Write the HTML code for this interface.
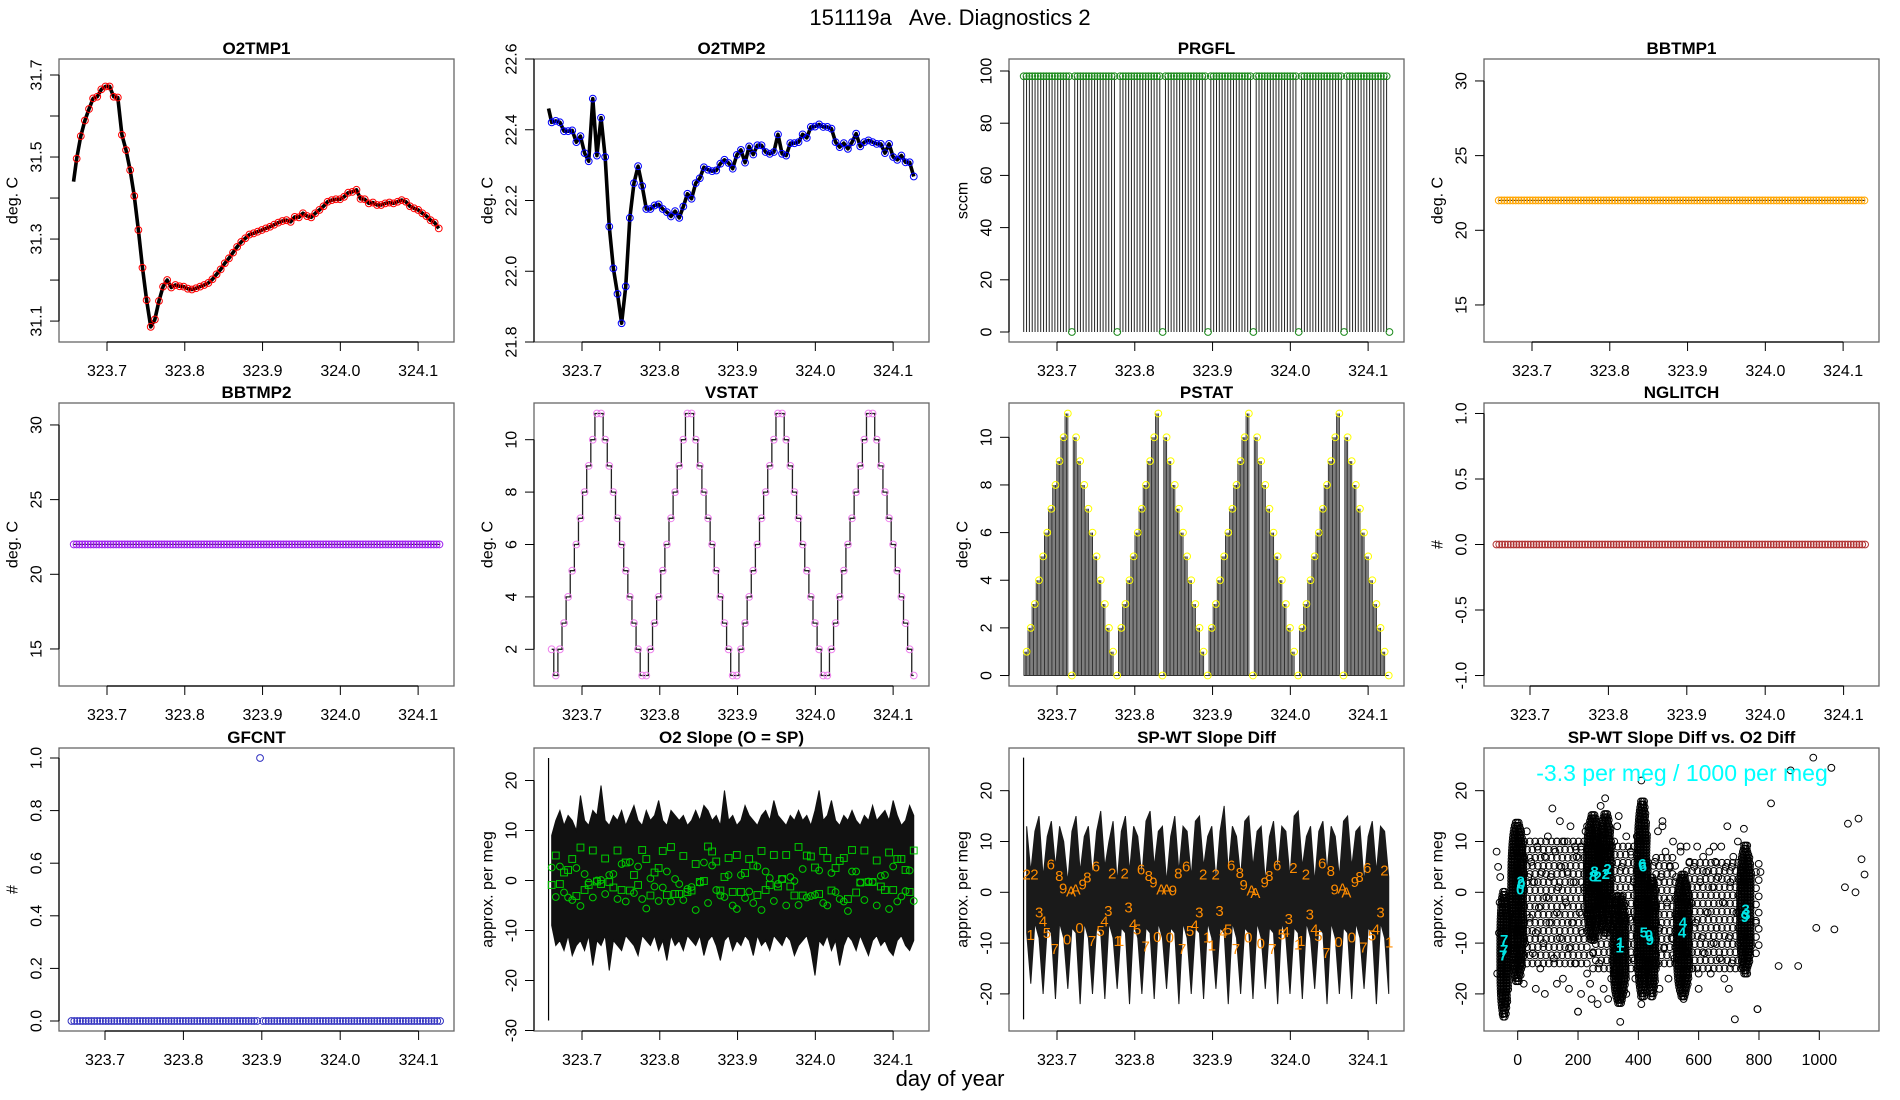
<!DOCTYPE html>
<html><head><meta charset="utf-8"><title>151119a Ave. Diagnostics 2</title>
<style>
html,body{margin:0;padding:0;background:#fff;}
svg{display:block;font-family:"Liberation Sans",Arial,sans-serif;}
</style></head>
<body>
<svg id="chart" xmlns="http://www.w3.org/2000/svg" width="1900" height="1100" viewBox="0 0 1900 1100">
<rect x="0" y="0" width="1900" height="1100" fill="#fff"/>
<text x="950" y="25" font-size="22" text-anchor="middle" style="white-space:pre" xml:space="preserve">151119a   Ave. Diagnostics 2</text>
<text x="950" y="1086" font-size="22" text-anchor="middle">day of year</text>
</svg>
<script>
// ---------- data ----------
const sampleT0 = 323.661, sampleDt = 0.00529;   // 89 averaged samples
const fineT0 = 323.6572, fineDt = 0.003645;     // 130 raw samples
const timeTicks = [323.7, 323.8, 323.9, 324.0, 324.1];
const timeTickLabels = ['323.7', '323.8', '323.9', '324.0', '324.1'];

const o2tmp1 = [31.496,31.551,31.589,31.617,31.643,31.647,31.665,31.672,31.672,31.647,
31.645,31.554,31.517,31.468,31.405,31.322,31.230,31.151,31.086,31.104,
31.149,31.184,31.200,31.182,31.188,31.185,31.184,31.179,31.177,31.180,
31.184,31.188,31.193,31.202,31.214,31.226,31.241,31.253,31.267,31.281,
31.293,31.302,31.311,31.314,31.318,31.322,31.326,31.330,31.335,31.340,
31.344,31.346,31.342,31.354,31.353,31.363,31.356,31.353,31.363,31.371,
31.380,31.391,31.395,31.397,31.397,31.403,31.413,31.415,31.420,31.398,
31.397,31.387,31.389,31.383,31.383,31.387,31.389,31.387,31.391,31.395,
31.391,31.380,31.375,31.371,31.363,31.356,31.346,31.340,31.326];
const o2tmp1Start = [323.657, 31.44];

const o2tmp2 = [22.421,22.425,22.421,22.396,22.396,22.398,22.365,22.382,22.334,22.311,
22.488,22.327,22.434,22.323,22.126,22.008,21.936,21.853,21.957,22.151,
22.249,22.297,22.241,22.176,22.176,22.186,22.189,22.176,22.167,22.155,
22.170,22.151,22.183,22.219,22.205,22.249,22.263,22.294,22.287,22.283,
22.285,22.304,22.315,22.306,22.290,22.329,22.343,22.307,22.353,22.330,
22.356,22.356,22.337,22.332,22.337,22.387,22.332,22.327,22.362,22.362,
22.365,22.387,22.377,22.408,22.409,22.415,22.408,22.408,22.403,22.365,
22.351,22.362,22.346,22.365,22.389,22.353,22.365,22.370,22.365,22.360,
22.360,22.334,22.360,22.323,22.315,22.327,22.308,22.308,22.268];
const o2tmp2Start = [323.657, 22.46];

const prgfl = [98,98,98,98,98,98,98,98,98,98,98,98,98,98,98,98,98,0,
98,98,98,98,98,98,98,98,98,98,98,98,98,98,98,0,
98,98,98,98,98,98,98,98,98,98,98,98,98,98,98,0,
98,98,98,98,98,98,98,98,98,98,98,98,98,98,98,0,
98,98,98,98,98,98,98,98,98,98,98,98,98,98,98,0,
98,98,98,98,98,98,98,98,98,98,98,98,98,98,98,0,
98,98,98,98,98,98,98,98,98,98,98,98,98,98,98,0,
98,98,98,98,98,98,98,98,98,98,98,98,98,98,98,0];

const bbtmp1 = [22,22,22,22,22,22,22,22,22,22, 22,22,22,22,22,22,22,22,22,22, 22,22,22,22,22,22,22,22,22,22,
22,22,22,22,22,22,22,22,22,22, 22,22,22,22,22,22,22,22,22,22, 22,22,22,22,22,22,22,22,22,22,
22,22,22,22,22,22,22,22,22,22, 22,22,22,22,22,22,22,22,22,22, 22,22,22,22,22,22,22,22,22,22,
22,22,22,22,22,22,22,22,22,22, 22,22,22,22,22,22,22,22,22,22, 22,22,22,22,22,22,22,22,22,22,
22,22,22,22,22,22,22,22,22,22];
const bbtmp2 = [22,22,22,22,22,22,22,22,22,22, 22,22,22,22,22,22,22,22,22,22, 22,22,22,22,22,22,22,22,22,22,
22,22,22,22,22,22,22,22,22,22, 22,22,22,22,22,22,22,22,22,22, 22,22,22,22,22,22,22,22,22,22,
22,22,22,22,22,22,22,22,22,22, 22,22,22,22,22,22,22,22,22,22, 22,22,22,22,22,22,22,22,22,22,
22,22,22,22,22,22,22,22,22,22, 22,22,22,22,22,22,22,22,22,22, 22,22,22,22,22,22,22,22,22,22,
22,22,22,22,22,22,22,22,22,22];
const nglitch = [0,0,0,0,0,0,0,0,0,0, 0,0,0,0,0,0,0,0,0,0, 0,0,0,0,0,0,0,0,0,0, 0,0,0,0,0,0,0,0,0,0,
0,0,0,0,0,0,0,0,0,0, 0,0,0,0,0,0,0,0,0,0, 0,0,0,0,0,0,0,0,0,0, 0,0,0,0,0,0,0,0,0,0,
0,0,0,0,0,0,0,0,0,0, 0,0,0,0,0,0,0,0,0,0, 0,0,0,0,0,0,0,0,0,0, 0,0,0,0,0,0,0,0,0,0,
0,0,0,0,0,0,0,0,0,0];
const gfcnt = [0,0,0,0,0,0,0,0,0,0, 0,0,0,0,0,0,0,0,0,0, 0,0,0,0,0,0,0,0,0,0, 0,0,0,0,0,0,0,0,0,0,
0,0,0,0,0,0,0,0,0,0, 0,0,0,0,0,0,0,0,0,0, 0,0,0,0,0,0,1,0,0,0, 0,0,0,0,0,0,0,0,0,0,
0,0,0,0,0,0,0,0,0,0, 0,0,0,0,0,0,0,0,0,0, 0,0,0,0,0,0,0,0,0,0, 0,0,0,0,0,0,0,0,0,0,
0,0,0,0,0,0,0,0,0,0];

const vstat = [2,1, 2,3,4,5,6,7,8,9,10,11, 11,10,9,8,7,6,5,4,3,2,1, 1,2,3,4,5,6,7,8,9,10,11,
11,10,9,8,7,6,5,4,3,2,1, 1,2,3,4,5,6,7,8,9,10,11, 11,10,9,8,7,6,5,4,3,2,1,
1,2,3,4,5,6,7,8,9,10,11, 11,10,9,8,7,6,5,4,3,2,1];
const pstat = [1,2,3,4,5,6,7,8,9,10,11, 0, 10,9,8,7,6,5,4,3,2,1, 0,
2,3,4,5,6,7,8,9,10,11, 0, 10,9,8,7,6,5,4,3,2,1, 0,
2,3,4,5,6,7,8,9,10,11, 0, 10,9,8,7,6,5,4,3,2,1, 0,
2,3,4,5,6,7,8,9,10,11, 0, 10,9,8,7,6,5,4,3,2,1, 0];

const o2Circle = [2.6,-3.3,2.8,-2.4,-3.4,-3.9,2.5,-5.1,1.3,-0.4, -3.4,0,0.1,-2.7,1.1,1.3,-3.7,3.3,-4.2,3.7,
-2.5,2.8,-3.7,-5.6,0.4,-1.2,-4.1,-1.4,1.8,-4.2, 0.3,-0.7,-3.9,-1.7,-1.3,-5.9,-0.4,3.6,-4.5,3.0,
-1.9,-3.0,-3.3,1.1,-5.0,-5.7,1.1,-3.5,-2.2,-4.5, 2.8,-5.9,1.8,0.5,-4.1,-0.7,0.3,-5.0,0.7,-0.1,
-4.9,2.3,-3.4,-3.1,-2.9,2.0,-4.5,-5.0,1.5,-2.3, -3.7,-4.2,-6.1,1.8,1.8,-0.4,-3.9,-0.2,-0.3,-5.0,
0.9,1.1,-5.7,2.8,-4.2,-3.2,-2.1,2.0,-4.1];
const o2Square = [-0.9,5.0,-0.7,1.6,2.1,4.3,-3.1,6.6,-1.9,-0.9, 6.0,-0.2,-0.7,4.4,-0.3,-1.4,6.0,-1.9,3.6,-2.0,
1.1,-0.9,6.1,4.3,-3.0,1.6,2.5,5.9,-2.9,6.7, -2.7,-2.7,4.9,-2.3,-2.0,3.3,-0.3,-0.1,6.8,5.8,
3.8,-2.0,0.7,4.5,-2.3,5.1,-2.3,1.5,4.3,3.0, -2.9,5.9,-1.9,-0.9,5.1,-1.2,0.3,5.1,-1.2,-3.0,
6.7,-3.0,5.0,4.8,2.6,-2.7,5.9,4.5,-2.0,2.5, 3.9,4.5,-3.7,6.1,-2.4,-0.4,6.0,-0.3,-0.3,4.0,
-1.2,-1.9,5.6,-1.9,4.3,4.3,2.1,-2.3,6.0];
const o2Hi = [9,12,14,11,13,12,10,17,12,11, 14,13,19,12,11,13,12,14,11,13, 15,12,11,14,12,13,16,12,11,14,
13,12,13,11,12,14,12,15,14,12, 13,11,18,12,13,11,12,15,13,12, 11,13,14,12,16,13,12,11,13,12,
14,12,13,11,14,18,12,13,16,12, 11,13,12,14,12,11,13,12,15,12, 13,14,12,16,13,11,12,15,13];
const o2Lo = [-9,-13,-12,-14,-11,-15,-13,-12,-14,-11, -17,-12,-13,-11,-18,-12,-13,-14,-11,-12,
-13,-15,-11,-12,-13,-11,-14,-12,-16,-11, -13,-12,-14,-11,-12,-13,-11,-15,-12,-11,
-13,-16,-12,-11,-14,-12,-13,-11,-12,-15, -11,-13,-12,-14,-11,-12,-13,-11,-12,-15,
-13,-12,-11,-14,-19,-12,-13,-11,-14,-12, -17,-13,-11,-12,-14,-11,-13,-15,-12,-11,
-13,-12,-14,-15,-12,-11,-13,-14,-12];
const o2Spike = [323.657, 24.5, -28];

const swHi = [13,4,12,15,3,11,14,5,13,10, 2,12,15,4,11,13,3,12,16,5, 10,14,2,12,15,4,13,11,3,14,
16,5,12,13,2,11,15,4,13,12, 3,14,15,5,11,13,2,12,17,4, 13,11,3,14,15,5,12,13,2,11,
14,4,13,12,3,15,16,5,11,13, 2,12,14,4,13,11,3,14,15,5, 12,13,2,11,14,4,13,12,3];
const swLo = [-8,-18,-6,-9,-20,-7,-8,-21,-6,-9, -19,-7,-8,-22,-6,-9,-20,-7,-8,-21,
-6,-9,-19,-7,-8,-22,-6,-9,-20,-7, -8,-21,-6,-9,-19,-7,-8,-22,-6,-9,
-20,-7,-8,-21,-6,-9,-19,-7,-8,-22, -6,-9,-20,-7,-8,-21,-6,-9,-19,-7,
-8,-22,-6,-9,-20,-7,-8,-21,-6,-9, -19,-7,-8,-22,-6,-9,-20,-7,-8,-21,
-6,-9,-19,-7,-8,-22,-6,-9,-20];
const swSpike = [323.657, 26.5, -25];
const swLabelChar = ['2','2','6','8','9','A','A','9','8','6','2','2','6','8','9','A','A','9','8','6','2','2','6','8','9','A','A','9','8','6','2','2','6','8','9','A','A','9','8','6','2',
'3','4','1','5','7','0','0','7','5','4','3','1','1','3','4','5','7','0','0','7','5','4','3','1','1','3','4','5','7','0','0','7','5','4','3','1','1','3','4','5','7','0','0','7','5','4','3','1'];
const swLabelT = [323.661,323.671,323.692,323.703,323.708,323.718,323.724,323.733,323.739,323.750,323.771,323.787,323.808,323.818,323.824,323.834,323.841,323.849,323.856,323.866,323.888,323.904,323.924,323.935,323.940,323.950,323.955,323.967,323.973,323.983,324.004,324.020,324.041,324.052,324.057,324.067,324.072,324.083,324.089,324.099,324.121,
323.677,323.682,323.666,323.687,323.697,323.713,323.729,323.745,323.756,323.761,323.766,323.778,323.781,323.792,323.798,323.803,323.814,323.829,323.845,323.861,323.871,323.877,323.883,323.893,323.899,323.909,323.914,323.920,323.930,323.946,323.962,323.977,323.989,323.994,323.998,324.010,324.014,324.025,324.031,324.036,324.046,324.062,324.079,324.094,324.105,324.110,324.116,324.127];
const swLabelV = [3.4,3.4,5.4,3.1,0.6,0.1,0.5,1.4,2.8,5.0,3.6,3.6,4.4,3.1,1.8,0.5,0.5,0.3,3.6,5.0,3.4,3.4,5.2,3.7,1.3,0.3,-0.2,1.8,3.1,5.2,4.7,3.4,5.6,4.1,0.5,0.6,-0.1,1.9,2.9,4.7,4.2,
-4.1,-5.8,-8.5,-8.1,-11.3,-9.4,-7.1,-9.7,-7.7,-5.8,-3.8,-9.7,-9.7,-3.1,-6.4,-7.4,-10.8,-8.9,-9.0,-11.3,-7.7,-6.6,-4.1,-9.0,-10.6,-3.8,-8.1,-7.4,-11.3,-9.0,-10.2,-11.3,-8.4,-7.9,-5.4,-10.4,-9.7,-4.5,-7.4,-8.7,-12.0,-9.9,-9.0,-11.0,-8.6,-7.4,-4.1,-10.0];

// scatter: SP-WT slope diff vs O2 diff
const clusterX0 = [-58,-22,229,273,317,396,432,527,737];
const clusterX1 = [-30,22,273,312,361,432,460,571,776];
const clusterLo = [-24.5,-17.5,-9.4,-8,-21.8,-20.5,-20.5,-20.5,-16];
const clusterHi = [0.5,14.2,15.2,15.5,-0.2,18,3,3.7,9.2];
const cloudBandX0 = [-5,250,450,560,790];
const cloudBandX1 = [240,400,530,740,800];
const cloudBandLo = [-14,-15,-14,-15,-12];
const cloudBandHi = [10,10,8,7,6];
const cloudPts = [[-70,8],[-65,5],[-60,-2],[-68,-16],[-58,3],[-62,-8],[30,12],[40,-5],[45,6],[50,-12],[55,2],[60,-8],[65,9],[70,-3],[75,-15],[80,4],[85,-10],[90,7],[95,-1],[100,11],[105,-6],[110,3],[115,16.5],[120,-13],[125,8],[130,-4],[135,1],[140,-9],[145,5],[150,-17],[155,10],[160,-2],[165,4],[170,-11],[175,13],[180,-6],[185,2],[190,-14],[195,7],[200,-23.5],[205,-4],[210,9],[215,-8],[220,1],[225,12],[230,-16],[20,-18],[25,-10],[35,3],[60,-19],[90,-20],[130,-18],[170,-19],[210,-20],[240,-18],[245,-21],[265,-22],[285,-19],[300,-21],[310,-17],[320,10],[330,13],[345,5],[360,11],[370,-5],[375,8],[380,-13],[385,2],[390,-17],[395,11],[400,-3],[455,6],[460,-14],[465,12],[470,-7],[475,3],[480,14],[485,-11],[490,8],[495,-2],[500,-17],[505,5],[510,-9],[515,10],[520,-13],[525,3],[530,-5],[540,9],[560,-12],[570,6],[575,-2],[580,-15],[585,5],[590,-6],[595,9],[600,-16],[605,2],[610,-9],[615,7],[620,-12],[625,4],[630,-4],[635,8],[640,-16],[645,1],[650,-10],[655,6],[660,-7],[665,3],[670,-13],[675,9],[680,-2],[685,-17],[690,5],[695,13],[700,-9],[705,2],[710,-14],[715,7],[720,-25],[725,-4],[730,10],[790,-6],[795,-23],[805,4],[140,14],[250,-12],[270,-14],[320,-16],[360,-20],[410,-22],[470,-19],[550,-21],[600,-19],[700,-19],[-40,-22],[-50,-24],[130,10],[190,9],[230,13],[275,17],[290,18.5],[335,15],[410,22],[480,13],[540,8],[560,9],[650,9],[710,5],[750,12.5],[980,26.5],[1040,24.5],[905,24],[840,17.5],[1130,14.5],[1095,13.5],[1140,6.5],[1150,3.5],[1085,1],[1120,0],[990,-7],[1050,-7.3],[930,-14.5],[865,-14.5],[795,-23],[340,-25.5],[200,-23.5]];
const cyanChar = ['7','7','7','0','0','2','8','8','2','2','2','6','6','1','1','5','0','9','4','4','3','3','9'];
const cyanX = [-45,-45,-48,8,12,10,250,255,265,292,298,413,415,340,338,418,435,438,548,545,756,758,753];
const cyanY = [-9.5,-11.5,-12.5,0.5,1.5,2,3,4,3,3.5,4.5,5.5,5,-10,-11,-8,-8.5,-9.5,-6,-8,-3.5,-4.5,-5];

// ---------- helpers ----------
const NS = 'http://www.w3.org/2000/svg';
const svg = document.getElementById('chart');
function el(tag, attrs, parent) {
  const e = document.createElementNS(NS, tag);
  for (const k in attrs) e.setAttribute(k, attrs[k]);
  (parent || svg).appendChild(e);
  return e;
}
const sampleT = i => sampleT0 + i * sampleDt;
const fineT = i => fineT0 + i * fineDt;
let clipId = 0;

function panel(p) {
  const L = 59 + 475 * p.col, T = [59, 403, 748][p.row], W = 395, H = 283;
  const g = el('g', {});
  
  
  const X = v => L + p.xoff + (v - p.x0) * p.xs;
  const Y = v => T + (p.ymax - v) / (p.ymax - p.ymin) * H;
  const box = el('rect', {x: L, y: T, width: W, height: H, fill: 'none', stroke: '#666', 'stroke-width': 1.3}, g);
  
  
  const ya = el('line', {x1: L, x2: L, y1: Y(p.yt[0]), y2: Y(p.yt[p.yt.length - 1]), stroke: '#000', 'stroke-width': 1.2}, g);
  
  
  p.yt.forEach((v, i) => {
    const tk = el('line', {x1: L - 9, x2: L, y1: Y(v), y2: Y(v), stroke: '#000', 'stroke-width': 1}, g);
    
    
    if (p.ytl[i] !== '') {
      const tx = el('text', {x: L - 22, y: Y(v), 'font-size': 16, 'text-anchor': 'middle', 'dominant-baseline': 'central', transform: `rotate(-90 ${L - 22} ${Y(v)})`}, g);
      tx.textContent = p.ytl[i];
      
      
    }
  });
  const xa = el('line', {x1: X(p.xt[0]), x2: X(p.xt[p.xt.length - 1]), y1: T + H, y2: T + H, stroke: '#000', 'stroke-width': 1.2}, g);
  
  
  p.xt.forEach((v, i) => {
    const tk = el('line', {x1: X(v), x2: X(v), y1: T + H, y2: T + H + 9, stroke: '#000', 'stroke-width': 1}, g);
    
    
    const tx = el('text', {x: X(v), y: T + H + 34, 'font-size': 16, 'text-anchor': 'middle'}, g);
    tx.textContent = p.xtl[i];
    
    
  });
  const ti = el('text', {x: L + W / 2, y: T - 5, 'font-size': 17, 'font-weight': 'bold', 'text-anchor': 'middle'}, g);
  ti.textContent = p.title;
  
  
  const yl = el('text', {x: L - 46, y: T + H / 2, 'font-size': 16, 'text-anchor': 'middle', 'dominant-baseline': 'central', transform: `rotate(-90 ${L - 46} ${T + H / 2})`}, g);
  yl.textContent = p.ylab;
  
  
  const cid = 'clip' + (clipId++);
  const cp = el('clipPath', {id: cid}, g);
  el('rect', {x: L, y: T, width: W, height: H}, cp);
  const d = el('g', {'clip-path': `url(#${cid})`}, g);
  
  
  return {d, X, Y};
}
function circle(parent, cx, cy, color, name) {
  const c = el('circle', {cx: cx, cy: cy, r: 3.4, fill: 'none', stroke: color, 'stroke-width': 1}, parent);
  
  
  return c;
}
function envelope(P, hi, lo, color, name) {
  const up = hi.map((h, i) => P.X(sampleT(i)) + ',' + P.Y(h));
  const dn = lo.map((l, i) => P.X(sampleT(i)) + ',' + P.Y(l)).reverse();
  const pg = el('polygon', {points: up.concat(dn).join(' '), fill: color, stroke: color, 'stroke-width': 1, 'stroke-linejoin': 'miter'}, P.d);
  
  
}
const stdTime = {x0: 323.7, xoff: 48, xs: 777.8, xt: timeTicks, xtl: timeTickLabels};
const altTime = {x0: 323.7, xoff: 46, xs: 784, xt: timeTicks, xtl: timeTickLabels};

function lineWithMarkers(P, start, vals, color, name) {
  let pts = [[P.X(start[0]), P.Y(start[1])]];
  vals.forEach((v, i) => pts.push([P.X(sampleT(i)), P.Y(v)]));
  const pl = el('polyline', {points: pts.map(q => q.join(',')).join(' '), fill: 'none', stroke: '#000', 'stroke-width': 3.6, 'stroke-linejoin': 'round'}, P.d);
  
  
  vals.forEach((v, i) => circle(P.d, P.X(sampleT(i)), P.Y(v), color, name + '-marker'));
}

// ---------- O2TMP1 ----------
{
  const P = panel(Object.assign({name: 'o2tmp1', col: 0, row: 0, title: 'O2TMP1', ylab: 'deg. C', ymin: 31.049, ymax: 31.739,
    yt: [31.1, 31.2, 31.3, 31.4, 31.5, 31.6, 31.7], ytl: ['31.1', '', '31.3', '', '31.5', '', '31.7']}, stdTime));
  lineWithMarkers(P, o2tmp1Start, o2tmp1, '#ff0000', 'o2tmp1');
}
// ---------- O2TMP2 ----------
{
  const P = panel(Object.assign({name: 'o2tmp2', col: 1, row: 0, title: 'O2TMP2', ylab: 'deg. C', ymin: 21.8, ymax: 22.6,
    yt: [21.8, 22.0, 22.2, 22.4, 22.6], ytl: ['21.8', '22.0', '22.2', '22.4', '22.6']}, stdTime));
  lineWithMarkers(P, o2tmp2Start, o2tmp2, '#0000ff', 'o2tmp2');
}
// ---------- PRGFL ----------
{
  const P = panel(Object.assign({name: 'prgfl', col: 2, row: 0, title: 'PRGFL', ylab: 'sccm', ymin: -3.83, ymax: 104.6,
    yt: [0, 20, 40, 60, 80, 100], ytl: ['0', '20', '40', '60', '80', '100']}, stdTime));
  prgfl.forEach((v, i) => {
    if (v > 0) {
      const ln = el('line', {x1: P.X(fineT(i)), x2: P.X(fineT(i)), y1: P.Y(0), y2: P.Y(v), stroke: '#222', 'stroke-width': 1}, P.d);
      
      
    }
  });
  prgfl.forEach((v, i) => circle(P.d, P.X(fineT(i)), P.Y(v), '#1a8a1a', 'prgfl-marker'));
}
// ---------- BBTMP1 ----------
{
  const P = panel(Object.assign({name: 'bbtmp1', col: 3, row: 0, title: 'BBTMP1', ylab: 'deg. C', ymin: 12.52, ymax: 31.47,
    yt: [15, 20, 25, 30], ytl: ['15', '20', '25', '30']}, stdTime));
  const ln = el('line', {x1: P.X(fineT(0)), x2: P.X(fineT(bbtmp1.length - 1)), y1: P.Y(bbtmp1[0]), y2: P.Y(bbtmp1[bbtmp1.length - 1]), stroke: '#000', 'stroke-width': 1}, P.d);
  
  
  bbtmp1.forEach((v, i) => circle(P.d, P.X(fineT(i)), P.Y(v), '#ffa500', 'bbtmp1-marker'));
}
// ---------- BBTMP2 ----------
{
  const P = panel(Object.assign({name: 'bbtmp2', col: 0, row: 1, title: 'BBTMP2', ylab: 'deg. C', ymin: 12.52, ymax: 31.47,
    yt: [15, 20, 25, 30], ytl: ['15', '20', '25', '30']}, stdTime));
  const ln = el('line', {x1: P.X(fineT(0)), x2: P.X(fineT(bbtmp2.length - 1)), y1: P.Y(bbtmp2[0]), y2: P.Y(bbtmp2[bbtmp2.length - 1]), stroke: '#000', 'stroke-width': 1}, P.d);
  
  
  bbtmp2.forEach((v, i) => circle(P.d, P.X(fineT(i)), P.Y(v), '#a020f0', 'bbtmp2-marker'));
}
// ---------- VSTAT ----------
{
  const P = panel(Object.assign({name: 'vstat', col: 1, row: 1, title: 'VSTAT', ylab: 'deg. C', ymin: 0.6, ymax: 11.4,
    yt: [2, 4, 6, 8, 10], ytl: ['2', '4', '6', '8', '10']}, stdTime));
  let dd = `M${P.X(sampleT(0))},${P.Y(vstat[0])}`;
  for (let i = 1; i < vstat.length; i++) {
    const x = P.X(sampleT(i));
    dd += ` H${x - 2} V${P.Y(vstat[i])} H${x}`;
  }
  const pth = el('path', {d: dd, fill: 'none', stroke: '#222', 'stroke-width': 1.3}, P.d);
  
  
  vstat.forEach((v, i) => circle(P.d, P.X(sampleT(i)), P.Y(v), '#ee82ee', 'vstat-marker'));
}
// ---------- PSTAT ----------
{
  const P = panel(Object.assign({name: 'pstat', col: 2, row: 1, title: 'PSTAT', ylab: 'deg. C', ymin: -0.44, ymax: 11.44,
    yt: [0, 2, 4, 6, 8, 10], ytl: ['0', '2', '4', '6', '8', '10']}, stdTime));
  pstat.forEach((v, i) => {
    if (v > 0) {
      for (let k = 0; k < 3; k++) {
        const x = P.X(sampleT(i) - k * sampleDt / 3);
        const ln = el('line', {x1: x, x2: x, y1: P.Y(0), y2: P.Y(v), stroke: '#333', 'stroke-width': 1}, P.d);
        
        
      }
    }
  });
  const base = el('line', {x1: P.X(fineT0), x2: P.X(sampleT(pstat.length - 1)), y1: P.Y(0), y2: P.Y(0), stroke: '#333', 'stroke-width': 1}, P.d);
  
  
  pstat.forEach((v, i) => circle(P.d, P.X(sampleT(i)), P.Y(v), '#ffff00', 'pstat-marker'));
}
// ---------- NGLITCH ----------
{
  const P = panel(Object.assign({name: 'nglitch', col: 3, row: 1, title: 'NGLITCH', ylab: '#', ymin: -1.08, ymax: 1.08,
    yt: [-1, -0.5, 0, 0.5, 1], ytl: ['-1.0', '-0.5', '0.0', '0.5', '1.0']}, altTime));
  nglitch.forEach((v, i) => circle(P.d, P.X(fineT(i)), P.Y(v), '#b03030', 'nglitch-marker'));
}
// ---------- GFCNT ----------
{
  const P = panel(Object.assign({name: 'gfcnt', col: 0, row: 2, title: 'GFCNT', ylab: '#', ymin: -0.038, ymax: 1.038,
    yt: [0, 0.2, 0.4, 0.6, 0.8, 1.0], ytl: ['0.0', '0.2', '0.4', '0.6', '0.8', '1.0']}, altTime));
  gfcnt.forEach((v, i) => circle(P.d, P.X(fineT(i)), P.Y(v), '#3030c0', 'gfcnt-marker'));
}
// ---------- O2 Slope ----------
{
  const P = panel(Object.assign({name: 'o2-slope', col: 1, row: 2, title: 'O2 Slope (O = SP)', ylab: 'approx. per meg', ymin: -30.1, ymax: 26.5,
    yt: [-30, -20, -10, 0, 10, 20], ytl: ['-30', '-20', '-10', '0', '10', '20']}, stdTime));
  const sp = el('line', {x1: P.X(o2Spike[0]), x2: P.X(o2Spike[0]), y1: P.Y(o2Spike[1]), y2: P.Y(o2Spike[2]), stroke: '#000', 'stroke-width': 1.2}, P.d);
  
  
  envelope(P, o2Hi, o2Lo, '#111', 'o2-slope-noise-band');
  o2Circle.forEach((v, i) => circle(P.d, P.X(sampleT(i)), P.Y(v), '#00cc00', 'o2-slope-circle'));
  o2Square.forEach((v, i) => {
    const s = el('rect', {x: P.X(sampleT(i)) - 3.4, y: P.Y(v) - 3.4, width: 6.8, height: 6.8, fill: 'none', stroke: '#00cc00', 'stroke-width': 1}, P.d);
    
    
  });
}
// ---------- SP-WT Slope Diff ----------
{
  const P = panel(Object.assign({name: 'spwt-slope-diff', col: 2, row: 2, title: 'SP-WT Slope Diff', ylab: 'approx. per meg', ymin: -27.3, ymax: 28.4,
    yt: [-20, -10, 0, 10, 20], ytl: ['-20', '-10', '0', '10', '20']}, stdTime));
  const sp = el('line', {x1: P.X(swSpike[0]), x2: P.X(swSpike[0]), y1: P.Y(swSpike[1]), y2: P.Y(swSpike[2]), stroke: '#000', 'stroke-width': 1.2}, P.d);
  
  
  envelope(P, swHi, swLo, '#1a1a1a', 'spwt-noise-band');
  swLabelChar.forEach((c, i) => {
    const t = el('text', {x: P.X(swLabelT[i]), y: P.Y(swLabelV[i]), 'font-size': 15, fill: '#ff8c00', 'text-anchor': 'middle', 'dominant-baseline': 'central'}, P.d);
    t.textContent = c;
    
    
  });
}
// ---------- SP-WT vs O2 Diff ----------
{
  const P = panel({name: 'spwt-vs-o2-diff', col: 3, row: 2, title: 'SP-WT Slope Diff vs. O2 Diff', ylab: 'approx. per meg', ymin: -27.3, ymax: 28.4,
    yt: [-20, -10, 0, 10, 20], ytl: ['-20', '-10', '0', '10', '20'],
    x0: 0, xoff: 33.7, xs: 0.3016, xt: [0, 200, 400, 600, 800, 1000], xtl: ['0', '200', '400', '600', '800', '1000']});
  cloudBandX0.forEach((x0, b) => {
    let row = 0;
    for (let y = cloudBandLo[b]; y <= cloudBandHi[b]; y += 1.6, row++) {
      for (let x = x0 + (row % 2) * 9; x <= cloudBandX1[b]; x += 18) {
        circle(P.d, P.X(x), P.Y(y), '#000', 'scatter-cloud-point');
      }
    }
  });
  cloudPts.forEach(q => circle(P.d, P.X(q[0]), P.Y(q[1]), '#000', 'scatter-point'));
  clusterX0.forEach((x0, c) => {
    const mid = (clusterLo[c] + clusterHi[c]) / 2, half = (clusterHi[c] - clusterLo[c]) / 2;
    const cx = (x0 + clusterX1[c]) / 2, hw = (clusterX1[c] - x0) / 2;
    for (let y = clusterLo[c]; y <= clusterHi[c]; y += 0.6) {
      const r = Math.abs(y - mid) / half;
      const w = hw * Math.sqrt(Math.max(0.08, 1 - r * r * r));
      for (let x = cx - w; x <= cx + w; x += 5) {
        circle(P.d, P.X(x), P.Y(y), '#000', 'scatter-cluster-point');
      }
    }
  });
  cyanChar.forEach((c, i) => {
    const t = el('text', {x: P.X(cyanX[i]), y: P.Y(cyanY[i]), 'font-size': 15, 'font-weight': 'bold', fill: '#00e5e5', 'text-anchor': 'middle', 'dominant-baseline': 'central'}, P.d);
    t.textContent = c;
    
    
  });
  const ann = el('text', {x: 1682, y: 781, 'font-size': 23, fill: '#00ffff', 'text-anchor': 'middle'});
  ann.textContent = '-3.3 per meg / 1000 per meg';
  
  
}
</script>
</body></html>
